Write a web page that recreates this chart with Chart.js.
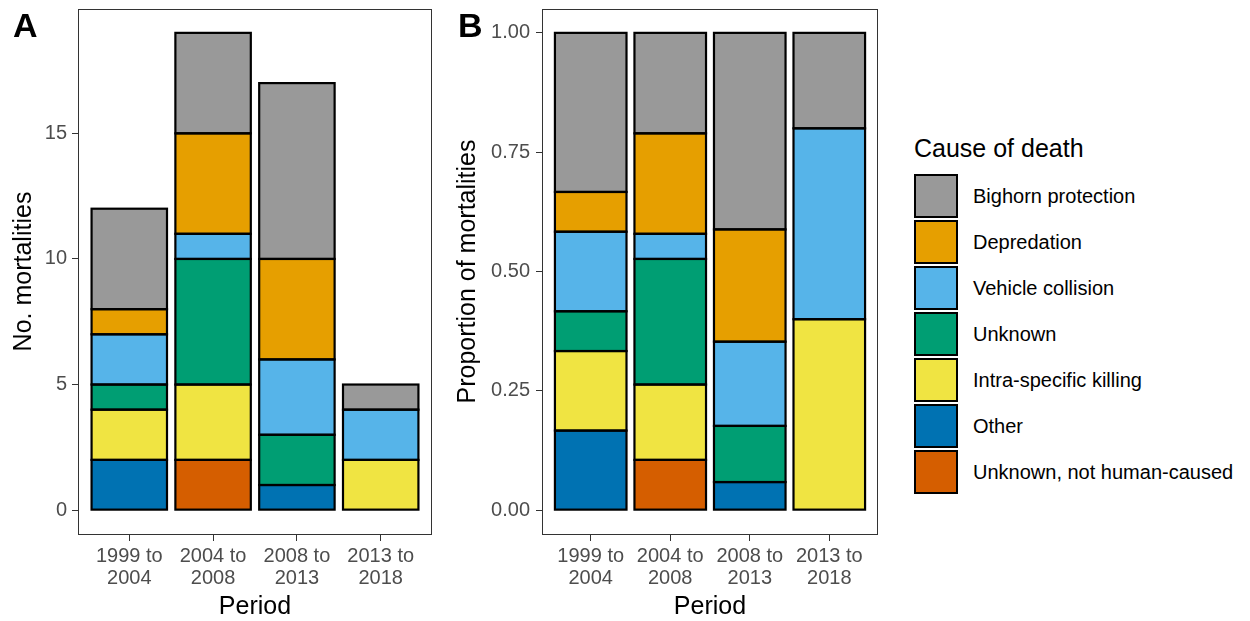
<!DOCTYPE html>
<html>
<head>
<meta charset="utf-8">
<script src="https://cdn.jsdelivr.net/npm/chart.js@4.4.1/dist/chart.umd.min.js"></script>
<style>
  body { margin: 0; background: #fff; width: 1250px; height: 621px; position: relative; overflow: hidden;
         font-family: "Liberation Sans", Arial, sans-serif; }
  canvas { position: absolute; top: 0; }
  #panelA { left: 0; }
  #panelB { left: 440px; }
  .tag { position: absolute; top: 8px; font-weight: bold; font-size: 34px; line-height: 34px; color: #000; }
  #legend { position: absolute; left: 914px; top: 136px; color: #000; }
  #legend .title { font-size: 25px; line-height: 25px; height: 37px; }
  #legend .item { display: flex; align-items: center; height: 46px; }
  #legend .key { width: 44px; height: 44px; box-sizing: border-box; border: 2.5px solid #000; }
  #legend .name { margin-left: 15px; font-size: 20px; line-height: 20px; }
</style>
</head>
<body>
<canvas id="panelA" width="440" height="621"></canvas>
<canvas id="panelB" width="450" height="621"></canvas>
<div class="tag" style="left:13px">A</div>
<div class="tag" style="left:458px">B</div>
<div id="legend"><div class="title">Cause of death</div></div>
<script>
// periods on the x axis
const periods = [["1999 to", "2004"], ["2004 to", "2008"], ["2008 to", "2013"], ["2013 to", "2018"]];

// number of mortalities per period, one list per cause (stacked bottom to top)
const unknownNotHuman = [0, 2, 0, 0];
const other           = [2, 0, 1, 0];
const intraSpecific   = [2, 3, 0, 2];
const unknown         = [1, 5, 2, 0];
const vehicle         = [2, 1, 3, 2];
const depredation     = [1, 4, 4, 0];
const bighorn         = [4, 4, 7, 1];

const causes = [
  "Unknown, not human-caused", "Other", "Intra-specific killing", "Unknown",
  "Vehicle collision", "Depredation", "Bighorn protection"
];
const causeColors = ["#D55E00", "#0072B2", "#F0E442", "#009E73", "#56B4E9", "#E69F00", "#999999"];

const countTicks = [0, 5, 10, 15];
const shareTicks = [0, 0.25, 0.5, 0.75, 1];

const countRows = [unknownNotHuman, other, intraSpecific, unknown, vehicle, depredation, bighorn];
const totals = periods.map((p, i) => countRows.reduce((s, row) => s + row[i], 0));
const shareRows = countRows.map(row => row.map((v, i) => v / totals[i]));

const FONT = "'Liberation Sans', Arial, sans-serif";
const TICK_COLOR = "#4D4D4D";
const LINE_COLOR = "#333333";

// box round the plotting area
const panelBorder = {
  id: "panelBorder",
  afterDatasetsDraw(chart) {
    const { ctx, chartArea: a } = chart;
    ctx.save();
    ctx.strokeStyle = LINE_COLOR;
    ctx.lineWidth = 1;
    ctx.strokeRect(a.left - 0.5, a.top + 0.5, a.right - a.left + 1, a.bottom - a.top);
    ctx.restore();
  }
};

// black outline centred on each segment edge, so neighbours share one line
const segmentOutline = {
  id: "segmentOutline",
  afterDatasetsDraw(chart) {
    const { ctx } = chart;
    ctx.save();
    ctx.strokeStyle = "#000";
    ctx.lineWidth = 2.2;
    chart.getSortedVisibleDatasetMetas().forEach(meta => {
      meta.data.forEach(bar => {
        const { x, y, base, width } = bar.getProps(["x", "y", "base", "width"], true);
        if (Math.abs(base - y) < 0.5) return;
        ctx.strokeRect(x - width / 2, Math.min(y, base), width, Math.abs(base - y));
      });
    });
    ctx.restore();
  }
};

function mountPanel(id, rows, cfg) {
  const el = document.getElementById(id);
  return new Chart(el.getContext("2d"), {
    type: "bar",
    data: {
      datasets: rows.map((row, k) => ({
        label: causes[k],
        data: row.map((v, i) => ({ x: i + 1, y: v })),
        backgroundColor: causeColors[k],
        borderWidth: 0,
        barPercentage: 0.9,
        categoryPercentage: 1
      }))
    },
    options: {
      responsive: false,
      animation: false,
      devicePixelRatio: 1,
      layout: { padding: { left: 0, top: 9, right: cfg.padRight, bottom: 0 } },
      plugins: { legend: { display: false }, tooltip: { enabled: false } },
      scales: {
        x: {
          type: "linear",
          min: 0.4,
          max: 4.6,
          offset: false,
          stacked: true,
          afterBuildTicks: s => { s.ticks = periods.map((p, i) => ({ value: i + 1 })); },
          afterFit: s => { s.height = 87; s.paddingLeft = 0; s.paddingRight = 0; },
          border: { display: false },
          grid: { offset: false, drawOnChartArea: false, drawTicks: true, tickLength: 7, color: LINE_COLOR, lineWidth: 1 },
          ticks: {
            autoSkip: false,
            maxRotation: 0,
            padding: 4,
            color: TICK_COLOR,
            font: { family: FONT, size: 20, lineHeight: 1.1 },
            callback: v => periods[Math.round(v) - 1]
          },
          title: {
            display: true,
            text: "Period",
            color: "#000",
            font: { family: FONT, size: 25, lineHeight: 1 },
            padding: { top: 0, bottom: 1 }
          }
        },
        y: {
          min: cfg.yMin,
          max: cfg.yMax,
          stacked: true,
          afterBuildTicks: s => { s.ticks = cfg.yTicks.map(v => ({ value: v })); },
          afterFit: s => { s.width = cfg.yWidth; s.paddingTop = 0; s.paddingBottom = 0; },
          border: { display: false },
          grid: { drawOnChartArea: false, drawTicks: true, tickLength: 7, color: LINE_COLOR, lineWidth: 1 },
          ticks: {
            padding: cfg.tickPad,
            color: TICK_COLOR,
            font: { family: FONT, size: 20 },
            callback: cfg.tickFormat
          },
          title: {
            display: true,
            text: cfg.yTitle,
            color: "#000",
            font: { family: FONT, size: 25, lineHeight: 1 },
            padding: { top: cfg.titlePad, bottom: 0 }
          }
        }
      }
    },
    plugins: [segmentOutline, panelBorder]
  });
}

// A: counts
mountPanel("panelA", countRows, {
  yMin: -0.95, yMax: 19.95, yTicks: countTicks, tickFormat: v => String(v),
  yTitle: "No. mortalities", yWidth: 79, padRight: 9, tickPad: 5, titlePad: 12
});

// B: proportions
mountPanel("panelB", shareRows, {
  yMin: -0.05, yMax: 1.05, yTicks: shareTicks, tickFormat: v => v.toFixed(2),
  yTitle: "Proportion of mortalities", yWidth: 103, padRight: 13, tickPad: 6, titlePad: 16
});

// legend, top entry is the top of the stack
const legend = document.getElementById("legend");
for (let k = causes.length - 1; k >= 0; k--) {
  const item = document.createElement("div");
  item.className = "item";
  const key = document.createElement("div");
  key.className = "key";
  key.style.background = causeColors[k];
  const name = document.createElement("div");
  name.className = "name";
  name.textContent = causes[k];
  item.appendChild(key);
  item.appendChild(name);
  legend.appendChild(item);
}
</script>
</body>
</html>
